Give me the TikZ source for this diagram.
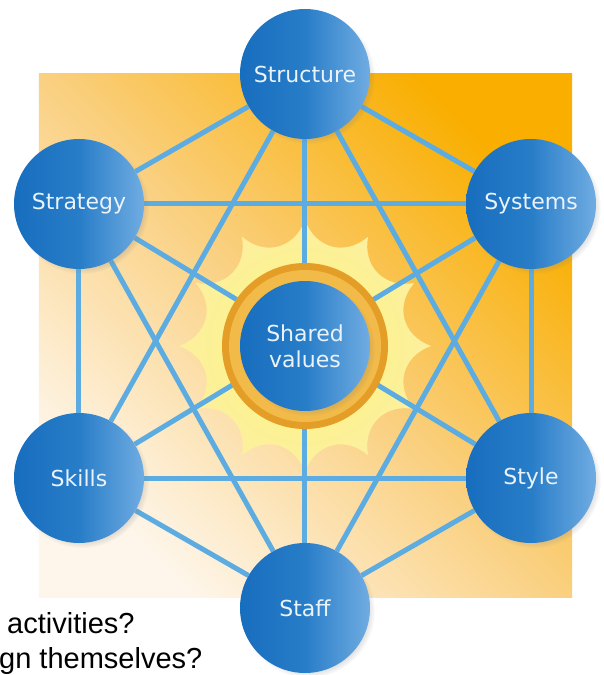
\documentclass[tikz,border=0pt]{standalone}
\usepackage{fontspec}
\setmainfont{DejaVu Sans}
\newfontfamily\slidefont{Liberation Sans}
\usetikzlibrary{shadows}

\definecolor{bgdark}{RGB}{249,174,0}
\definecolor{bgmid}{RGB}{250,208,128}
\definecolor{bgpale}{RGB}{254,246,234}
\definecolor{sunyellow}{RGB}{253,242,120}
\definecolor{sunpale}{RGB}{252,240,160}
\definecolor{ringdark}{RGB}{228,158,40}
\definecolor{ringlight}{RGB}{242,186,72}
\definecolor{blueL}{RGB}{24,110,190}
\definecolor{blueM}{RGB}{40,125,200}
\definecolor{blueR}{RGB}{112,172,226}
\definecolor{linkblue}{RGB}{92,172,225}
\definecolor{labelwhite}{RGB}{234,242,250}

\pgfdeclarelayer{back}
\pgfdeclarelayer{links}
\pgfsetlayers{back,links,main}

\begin{document}
\begin{tikzpicture}[x=1pt,y=1pt,
        sev/.style={circle,minimum size=130pt,inner sep=0pt,align=center,
                    left color=blueL,right color=blueR,middle color=blueM,
                    text=labelwhite,font=\fontsize{22}{26}\selectfont,
                    circular drop shadow={shadow xshift=3pt,shadow yshift=-3pt,shadow scale=1.03,opacity=.35}},
        link/.style={draw=linkblue,line width=5pt},
        question/.style={anchor=base west,inner sep=0pt,font=\slidefont\fontsize{29}{35}\selectfont}]

    \useasboundingbox (-305,-334) rectangle (299,341);

    % backdrop and sun
    \begin{pgfonlayer}{back}
        \shade[top color=bgdark,bottom color=bgpale,middle color=bgmid,shading angle=-45]
            (-266,-256) rectangle (267,267);
        \begin{scope}[shift={(0,-5)}]
            \shade[inner color=sunyellow,outer color=sunpale] (0:126)
                \foreach \a in {30,60,...,360} { .. controls (\a-24:98) and (\a-6:98) .. (\a:126) } -- cycle;
        \end{scope}
    \end{pgfonlayer}

    % ring round the centre
    \fill[ringdark] (0,-5) circle (83);
    \fill[ringlight] (0,-5) circle (76);

    \node[sev] (sv) at (0,-5) {Shared\\values};
    \node[sev] (structure) at (0,267)     {Structure};
    \node[sev] (strategy)  at (-226,137)  {Strategy};
    \node[sev] (systems)   at (226,137)   {Systems};
    \node[sev] (skills)    at (-226,-137) {Skills};
    \node[sev] (style)     at (226,-137)  {Style};
    \node[sev] (staff)     at (0,-267)    {Staff};

    \begin{pgfonlayer}{links}
        \foreach \a/\b in {structure/strategy,structure/systems,structure/skills,structure/style,structure/staff,
                           strategy/systems,strategy/skills,strategy/style,strategy/staff,
                           systems/skills,systems/style,systems/staff,
                           skills/style,skills/staff,style/staff}
            \draw[link] (\a) -- (\b);
    \end{pgfonlayer}

    \node[question] (q1) at (-298,-292) {activities?};
    \node[question] (q2) at (-306,-327) {gn themselves?};
\end{tikzpicture}
\end{document}
